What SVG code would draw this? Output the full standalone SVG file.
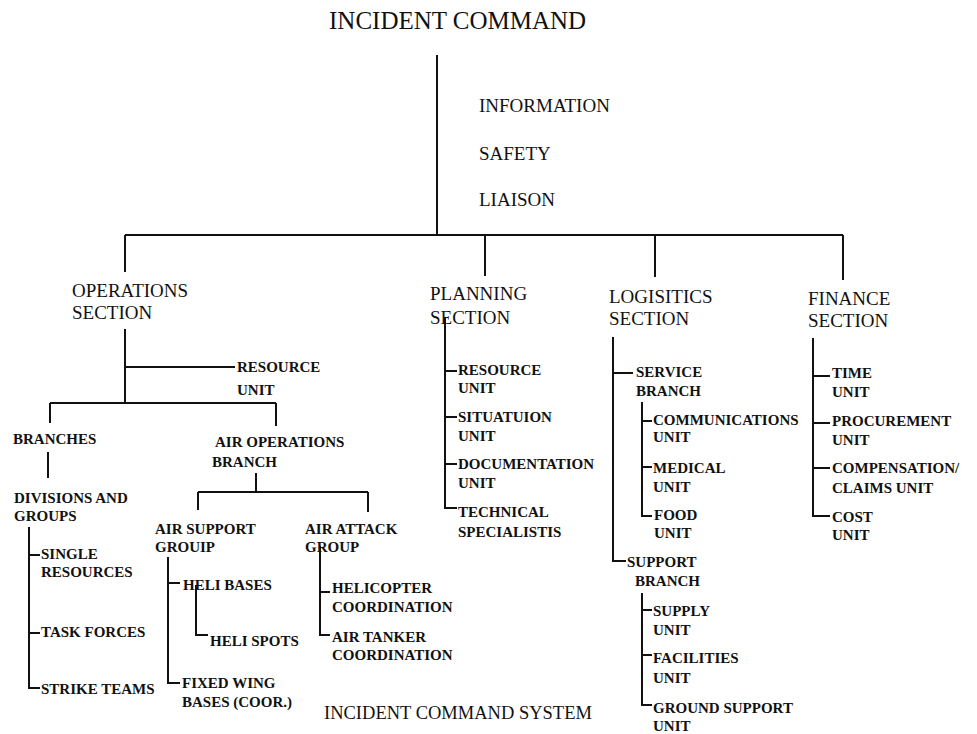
<svg xmlns="http://www.w3.org/2000/svg" width="977" height="734" viewBox="0 0 977 734">
<style>
text{font-family:"Liberation Serif","Times New Roman",serif;fill:#111}
.t1{font-size:25px}
.t2{font-size:19px}
.t3{font-size:15px;font-weight:bold}
.t4{font-size:18.5px}
#connectors path{fill:none;stroke:#111;stroke-width:2}
</style>
<rect width="977" height="734" fill="#fff"/>
<g id="connectors">
<path d="M437 55V235M125 235H843M125 235V272M485 235V276M655 235V277M843 235V280"/>
<path d="M125 329V403M125 367H235M50 403H276M50 403V423M276 403V426"/>
<path d="M48 452V478M29 527V688H40M29 555H40M29 633H40"/>
<path d="M256 473V492M198 492H368M198 492V510M368 492V512"/>
<path d="M168 557V683H180M168 583H180M196 585V635H208"/>
<path d="M320 546V635H330M320 592H330"/>
<path d="M445 318V508H457M445 371H457M445 417H457M445 464H457"/>
<path d="M613 337V561H626M613 373H633M642 402V516H652M642 421H652M642 467H652"/>
<path d="M642 593V705H652M642 610H652M642 655H652"/>
<path d="M813 338V516H830M813 376H830M813 423H830M813 468H830"/>
</g>
<g id="incident-command"><text class="t1" x="329" y="29">INCIDENT COMMAND</text></g>
<g id="information"><text class="t2" x="479" y="112">INFORMATION</text></g>
<g id="safety"><text class="t2" x="479" y="160">SAFETY</text></g>
<g id="liaison"><text class="t2" x="479" y="206">LIAISON</text></g>
<g id="operations-section"><text class="t2" x="72" y="297">OPERATIONS</text><text class="t2" x="72" y="319">SECTION</text></g>
<g id="ops-resource-unit"><text class="t3" x="237" y="372">RESOURCE</text><text class="t3" x="237" y="395">UNIT</text></g>
<g id="branches"><text class="t3" x="13" y="444">BRANCHES</text></g>
<g id="air-operations-branch"><text class="t3" x="215" y="447">AIR OPERATIONS</text><text class="t3" x="212" y="467">BRANCH</text></g>
<g id="divisions-groups"><text class="t3" x="14" y="503">DIVISIONS AND</text><text class="t3" x="14" y="521">GROUPS</text></g>
<g id="single-resources"><text class="t3" x="41" y="559">SINGLE</text><text class="t3" x="41" y="577">RESOURCES</text></g>
<g id="task-forces"><text class="t3" x="41" y="637">TASK FORCES</text></g>
<g id="strike-teams"><text class="t3" x="41" y="694">STRIKE TEAMS</text></g>
<g id="air-support-group"><text class="t3" x="155" y="534">AIR SUPPORT</text><text class="t3" x="155" y="552">GROUIP</text></g>
<g id="air-attack-group"><text class="t3" x="305" y="534">AIR ATTACK</text><text class="t3" x="305" y="552">GROUP</text></g>
<g id="heli-bases"><text class="t3" x="183" y="590">HELI BASES</text></g>
<g id="heli-spots"><text class="t3" x="210" y="646">HELI SPOTS</text></g>
<g id="fixed-wing"><text class="t3" x="182" y="688">FIXED WING</text><text class="t3" x="182" y="707">BASES (COOR.)</text></g>
<g id="helicopter-coord"><text class="t3" x="332" y="593">HELICOPTER</text><text class="t3" x="332" y="612">COORDINATION</text></g>
<g id="air-tanker-coord"><text class="t3" x="332" y="642">AIR TANKER</text><text class="t3" x="332" y="660">COORDINATION</text></g>
<g id="planning-section"><text class="t2" x="430" y="300">PLANNING</text><text class="t2" x="430" y="324">SECTION</text></g>
<g id="plan-resource-unit"><text class="t3" x="458" y="375">RESOURCE</text><text class="t3" x="458" y="393">UNIT</text></g>
<g id="situation-unit"><text class="t3" x="458" y="422">SITUATUION</text><text class="t3" x="458" y="441">UNIT</text></g>
<g id="documentation-unit"><text class="t3" x="458" y="469">DOCUMENTATION</text><text class="t3" x="458" y="488">UNIT</text></g>
<g id="technical-specialists"><text class="t3" x="458" y="517">TECHNICAL</text><text class="t3" x="458" y="537">SPECIALISTIS</text></g>
<g id="logistics-section"><text class="t2" x="609" y="303">LOGISITICS</text><text class="t2" x="609" y="325">SECTION</text></g>
<g id="service-branch"><text class="t3" x="636" y="377">SERVICE</text><text class="t3" x="636" y="396">BRANCH</text></g>
<g id="communications-unit"><text class="t3" x="653" y="425">COMMUNICATIONS</text><text class="t3" x="653" y="442">UNIT</text></g>
<g id="medical-unit"><text class="t3" x="653" y="473">MEDICAL</text><text class="t3" x="653" y="492">UNIT</text></g>
<g id="food-unit"><text class="t3" x="654" y="520">FOOD</text><text class="t3" x="654" y="538">UNIT</text></g>
<g id="support-branch"><text class="t3" x="627" y="567">SUPPORT</text><text class="t3" x="635" y="586">BRANCH</text></g>
<g id="supply-unit"><text class="t3" x="653" y="616">SUPPLY</text><text class="t3" x="653" y="635">UNIT</text></g>
<g id="facilities-unit"><text class="t3" x="653" y="663">FACILITIES</text><text class="t3" x="653" y="683">UNIT</text></g>
<g id="ground-support-unit"><text class="t3" x="653" y="713">GROUND SUPPORT</text><text class="t3" x="653" y="731">UNIT</text></g>
<g id="finance-section"><text class="t2" x="808" y="305">FINANCE</text><text class="t2" x="808" y="327">SECTION</text></g>
<g id="time-unit"><text class="t3" x="832" y="378">TIME</text><text class="t3" x="832" y="397">UNIT</text></g>
<g id="procurement-unit"><text class="t3" x="832" y="426">PROCUREMENT</text><text class="t3" x="832" y="445">UNIT</text></g>
<g id="compensation-unit"><text class="t3" x="832" y="473">COMPENSATION/</text><text class="t3" x="832" y="493">CLAIMS UNIT</text></g>
<g id="cost-unit"><text class="t3" x="832" y="522">COST</text><text class="t3" x="832" y="540">UNIT</text></g>
<g id="ics-title"><text class="t4" x="324" y="719">INCIDENT COMMAND SYSTEM</text></g>
</svg>
